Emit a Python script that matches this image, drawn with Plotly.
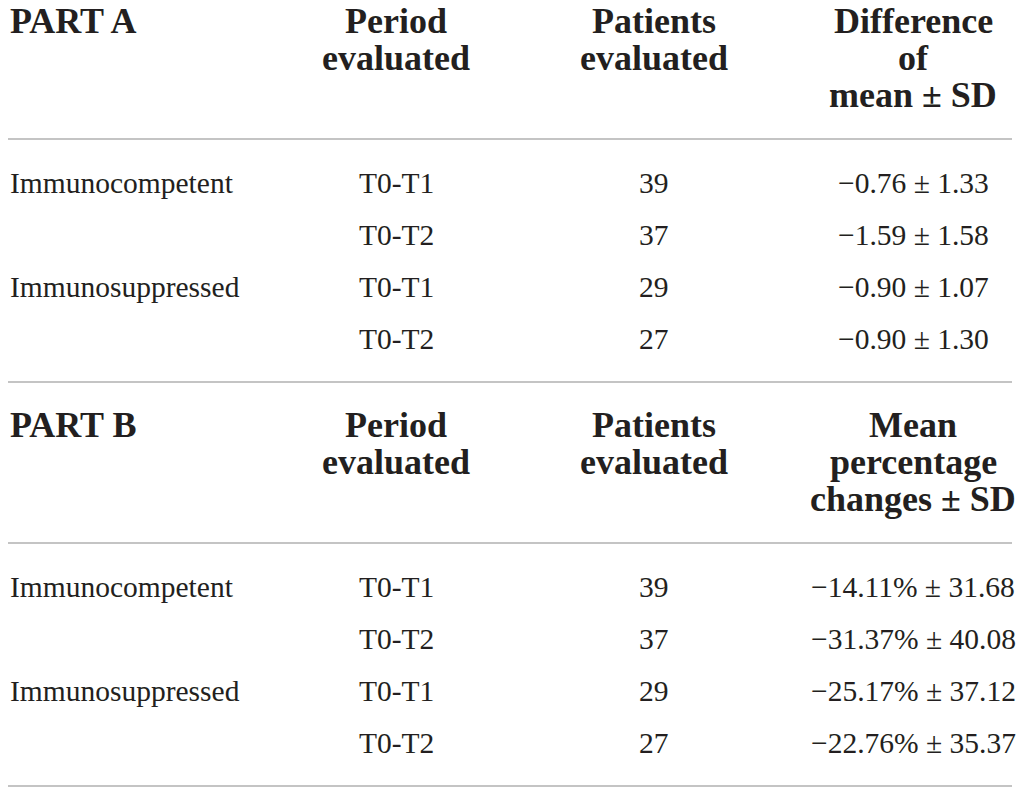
import plotly.graph_objects as go

# table content
part_labels = ["PART A", "PART B"]
period_header = ["Period", "evaluated"]
patients_header = ["Patients", "evaluated"]
value_headers = [["Difference", "of", "mean \u00b1 SD"],
                 ["Mean", "percentage", "changes \u00b1 SD"]]

groups = ["Immunocompetent", "", "Immunosuppressed", ""]
periods = ["T0-T1", "T0-T2", "T0-T1", "T0-T2"]
patients = [39, 37, 29, 27]

diff_mean = [-0.76, -1.59, -0.90, -0.90]
diff_sd = [1.33, 1.58, 1.07, 1.30]
pct_mean = [-14.11, -31.37, -25.17, -22.76]
pct_sd = [31.68, 40.08, 37.12, 35.37]


def fmt(m, sd, unit=""):
    sign = "\u2212" if m < 0 else ""
    return f"{sign}{abs(m):.2f}{unit} \u00b1 {sd:.2f}"


values = [[fmt(m, s) for m, s in zip(diff_mean, diff_sd)],
          [fmt(m, s, "%") for m, s in zip(pct_mean, pct_sd)]]

W, H = 1029, 792
PAD = 8  # page body margin
FONT = "Liberation Serif"
INK = "#231f20"
RULE = "#c4c4c4"
HEAD_SIZE = 36
BODY_SIZE = 29.5

col_x = [8, 396, 654, 913]
part_top = [0, 404]
head_base = [33, 70, 107]
rule_under_head = 139
row_base0 = 193
row_step = 52
rule_bottom = 382

fig = go.Figure()
annotations = []
shapes = []


def text(x, base, s, size, bold=False, align="center"):
    annotations.append(dict(
        x=x, y=base - 0.33 * size, xref="x", yref="y",
        text=f"<b>{s}</b>" if bold else s,
        showarrow=False, xanchor="left" if align == "left" else "center",
        yanchor="middle",
        font=dict(family=FONT, size=size, color=INK),
    ))


for p in range(2):
    top = part_top[p]
    text(col_x[0], top + head_base[0], part_labels[p], HEAD_SIZE, True, "left")
    for i, s in enumerate(period_header):
        text(col_x[1], top + head_base[i], s, HEAD_SIZE, True)
    for i, s in enumerate(patients_header):
        text(col_x[2], top + head_base[i], s, HEAD_SIZE, True)
    for i, s in enumerate(value_headers[p]):
        text(col_x[3], top + head_base[i], s, HEAD_SIZE, True)

    for r in range(len(periods)):
        base = top + row_base0 + r * row_step
        if groups[r]:
            text(col_x[0], base, groups[r], BODY_SIZE, align="left")
        text(col_x[1], base, periods[r], BODY_SIZE)
        text(col_x[2], base, str(patients[r]), BODY_SIZE)
        text(col_x[3], base, values[p][r], BODY_SIZE)

    for yy in (top + rule_under_head, top + rule_bottom):
        shapes.append(dict(type="line", xref="x", yref="y", x0=PAD, x1=1012,
                           y0=yy, y1=yy, line=dict(color=RULE, width=2)))

fig.update_layout(
    width=W - PAD, height=H - PAD,
    margin=dict(l=0, r=0, t=0, b=0),
    paper_bgcolor="white", plot_bgcolor="white",
    xaxis=dict(range=[PAD, W], visible=False, fixedrange=True),
    yaxis=dict(range=[H, PAD], visible=False, fixedrange=True),
    annotations=annotations,
    shapes=shapes,
    showlegend=False,
)
fig.write_html("out.html")
